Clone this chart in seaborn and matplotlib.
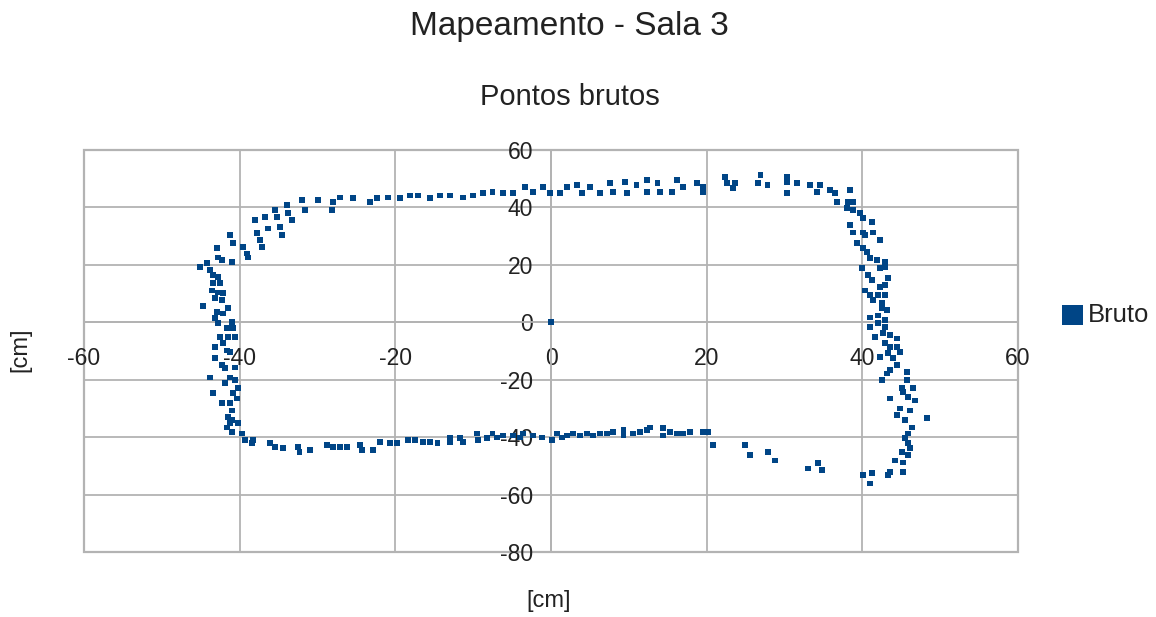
import matplotlib
matplotlib.use("Agg")
import matplotlib.pyplot as plt
from matplotlib.patches import Rectangle
import pandas as pd
import seaborn as sns

# Raw sensor readings (x, y) in cm, grouped by wall
left_wall = [
    (-41.2, 30.3), (-40.9, 27.5), (-39.6, 26.1), (-39.1, 24.0), (-38.9, 22.6),
    (-42.9, 25.8), (-42.8, 22.6), (-42.3, 21.6), (-41.0, 20.9), (-45.1, 19.2),
    (-44.2, 20.6), (-43.8, 18.1), (-43.4, 16.4), (-42.8, 15.7), (-43.4, 13.6),
    (-42.5, 13.6), (-43.6, 11.1), (-42.8, 10.4), (-42.1, 10.1), (-43.2, 8.4),
    (-42.3, 7.7), (-44.7, 5.6), (-41.5, 4.9), (-42.9, 3.5), (-42.1, 3.1),
    (-43.2, 1.4), (-42.8, -0.3), (-41.0, 0.0), (-40.9, -2.1), (-41.6, -2.1),
    (-42.5, -5.2), (-41.5, -5.2), (-40.6, -5.2), (-43.2, -8.7), (-42.1, -7.3),
    (-41.6, -9.8), (-41.2, -10.4), (-43.2, -12.5), (-42.3, -15.0), (-41.9, -16.0),
    (-40.6, -15.7), (-43.8, -19.2), (-41.2, -19.2), (-41.9, -21.2), (-40.6, -20.2),
    (-40.2, -23.0), (-43.4, -24.7), (-40.9, -24.7), (-40.3, -26.5), (-42.3, -28.2),
    (-41.2, -28.2), (-41.0, -30.7), (-41.5, -33.1), (-41.0, -34.1), (-41.2, -35.2),
    (-40.2, -35.2), (-41.6, -36.6), (-41.0, -38.3), (-39.7, -38.7), (-39.3, -41.1),
    (-38.3, -41.1), (-38.4, -42.1),
]

top_wall = [
    (-37.8, 31.0), (-37.4, 28.6), (-37.1, 26.1), (-38.0, 35.5), (-36.7, 36.6),
    (-36.4, 32.7), (-35.5, 39.0), (-35.2, 36.6), (-34.8, 33.1), (-34.6, 30.3),
    (-33.9, 40.8), (-33.8, 38.0), (-33.3, 35.5), (-32.0, 42.5), (-31.6, 39.0),
    (-29.9, 42.5), (-28.1, 39.0), (-28.0, 41.8), (-27.1, 43.5), (-25.4, 43.2),
    (-23.3, 41.8), (-22.4, 43.2), (-20.9, 43.5), (-19.4, 43.2), (-18.1, 44.2),
    (-17.1, 44.2), (-15.5, 43.2), (-14.3, 44.2), (-13.0, 44.2), (-11.3, 43.5),
    (-10.0, 44.2), (-8.7, 44.9), (-7.5, 45.3), (-6.2, 44.9), (-4.9, 44.9),
    (-3.3, 47.0), (-2.3, 45.3), (-1.0, 47.0), (-0.1, 44.9), (1.2, 44.9),
    (2.1, 47.0), (3.3, 47.7), (4.0, 44.9), (5.0, 47.0), (6.3, 44.9),
    (7.6, 48.4), (8.0, 45.3), (9.5, 48.8), (9.8, 44.9), (11.0, 47.7),
    (12.3, 49.5), (12.3, 45.3), (13.7, 48.4), (14.0, 45.3), (15.5, 45.3),
    (16.2, 49.5), (17.0, 47.0), (18.8, 48.4), (19.5, 47.0), (19.5, 45.3),
    (22.4, 50.5), (22.6, 48.4), (23.4, 46.7), (23.6, 48.4), (26.9, 51.2),
    (26.6, 48.4), (27.8, 47.7), (30.3, 50.5), (30.3, 48.8), (30.3, 44.9),
    (31.6, 48.4), (33.3, 47.7), (34.2, 45.3), (34.6, 47.7), (35.8, 46.0),
    (36.5, 44.9), (36.7, 41.8), (38.4, 46.0), (38.2, 41.8), (38.8, 41.8),
]

right_wall = [
    (38.0, 39.7), (38.8, 39.0), (39.7, 38.0), (40.1, 36.2), (41.2, 34.8),
    (38.4, 33.8), (38.8, 31.3), (40.1, 31.3), (41.4, 31.3), (42.3, 28.6),
    (39.3, 27.5), (40.3, 30.3), (40.1, 25.8), (40.6, 24.4), (41.0, 22.3),
    (41.9, 21.6), (42.9, 20.9), (40.0, 18.8), (42.3, 18.8), (42.9, 19.2),
    (40.7, 16.4), (41.2, 14.6), (43.3, 15.3), (42.3, 12.2), (42.9, 12.9),
    (40.3, 11.1), (41.0, 9.4), (42.0, 9.4), (42.9, 9.4), (41.4, 7.7),
    (42.5, 6.6), (42.5, 4.9), (43.2, 4.2), (41.0, 1.7), (42.0, 2.4),
    (42.9, 0.7), (41.0, -1.7), (42.0, -0.3), (42.9, -1.7), (41.6, -5.2),
    (42.7, -3.8), (43.6, -4.5), (44.5, -5.6), (42.9, -7.3), (43.6, -8.7),
    (44.5, -8.7), (44.8, -10.4), (42.3, -12.2), (43.3, -10.8), (43.9, -12.5),
    (44.5, -15.0), (43.6, -16.7), (43.2, -17.8), (42.5, -20.2), (45.7, -17.4),
    (45.7, -20.2), (45.1, -23.0), (45.2, -24.4), (46.5, -23.0), (43.6, -26.5),
    (45.9, -26.1), (46.8, -27.2), (44.8, -30.0), (44.5, -32.4), (46.1, -30.7),
    (45.5, -34.1), (48.3, -33.4), (46.4, -36.6), (45.9, -38.7), (45.5, -40.4),
    (45.9, -42.1), (46.1, -43.9), (45.1, -45.3), (45.9, -46.3), (44.2, -48.1),
    (45.2, -48.8), (43.6, -52.2), (43.3, -53.3), (45.2, -52.2), (40.1, -53.3),
    (41.2, -52.6), (41.0, -56.1),
]

bottom_wall = [
    (-36.1, -42.1), (-35.5, -43.5), (-34.4, -43.9), (-32.5, -43.5), (-32.3, -45.3),
    (-31.0, -44.6), (-28.8, -42.8), (-28.0, -43.5), (-27.1, -43.5), (-26.2, -43.5),
    (-24.5, -42.8), (-24.3, -44.6), (-22.9, -44.6), (-22.0, -41.8), (-20.7, -42.1),
    (-19.8, -42.1), (-18.4, -41.1), (-17.5, -41.1), (-16.4, -41.8), (-15.5, -41.8),
    (-14.6, -42.1), (-13.0, -40.1), (-13.0, -41.8), (-11.7, -40.4), (-11.3, -41.8),
    (-9.5, -38.7), (-9.4, -41.1), (-8.2, -40.4), (-7.5, -38.7), (-6.9, -40.1),
    (-6.2, -39.4), (-4.9, -39.4), (-4.0, -40.1), (-3.6, -38.7), (-2.3, -39.4),
    (-1.2, -40.1), (0.1, -41.1), (0.8, -38.7), (1.4, -40.1), (2.1, -39.4),
    (2.8, -38.7), (3.7, -39.4), (4.6, -38.7), (5.4, -39.4), (6.3, -38.7),
    (7.2, -38.7), (8.0, -38.3), (9.3, -37.6), (9.3, -39.4), (10.5, -38.7),
    (11.4, -38.3), (12.3, -37.6), (12.7, -36.6), (14.4, -36.9), (14.4, -39.4),
    (15.3, -38.3), (16.2, -38.7), (17.0, -38.7), (17.9, -38.3), (19.5, -38.3),
    (20.2, -38.3), (20.8, -42.8), (24.9, -42.8), (25.6, -46.3), (27.9, -45.3),
    (28.8, -48.1), (33.0, -50.9), (34.3, -49.1), (34.8, -51.5),
]

sensor_origin = [(0.0, 0.0)]

x_ticks = [-60, -40, -20, 0, 20, 40, 60]
y_ticks = [-80, -60, -40, -20, 0, 20, 40, 60]

points = pd.DataFrame(left_wall + top_wall + right_wall + bottom_wall + sensor_origin,
                      columns=["x", "y"])

sns.set_theme(style="white")
plt.rcParams["font.family"] = ["Liberation Sans", "DejaVu Sans"]
plt.rcParams["axes.unicode_minus"] = False

W, H = 1156, 617
fig = plt.figure(figsize=(W / 100, H / 100), dpi=100)
ax = fig.add_axes([84 / W, 65 / H, 934 / W, 402 / H])

point_color = "#004586"
grid_color = "#b3b3b3"
text_color = "#222222"

sns.scatterplot(data=points, x="x", y="y", marker="s", s=17, color=point_color,
                edgecolor="none", linewidth=0, label="Bruto", ax=ax, zorder=4)

ax.set_xlim(-60, 60)
ax.set_ylim(-80, 60)
ax.set_xticks(x_ticks)
ax.set_yticks(y_ticks)
ax.set_xlabel("")
ax.set_ylabel("")
ax.grid(True, color=grid_color, linewidth=1.3)
ax.set_axisbelow(True)

# axes cross at the origin
for side in ("top", "right"):
    ax.spines[side].set_visible(False)
for side in ("left", "bottom"):
    ax.spines[side].set_position("zero")
    ax.spines[side].set_color(grid_color)
    ax.spines[side].set_linewidth(1.3)
    ax.spines[side].set_zorder(1)

ax.tick_params(axis="both", length=0, labelsize=16.5, labelcolor=text_color)
ax.tick_params(axis="x", pad=18)
ax.tick_params(axis="y", pad=13)

# outer frame of the plot area
ax.add_patch(Rectangle((0, 0), 1, 1, transform=ax.transAxes, fill=False,
                       edgecolor=grid_color, linewidth=1.6, clip_on=False, zorder=0))

ax.legend(loc="center left", bbox_to_anchor=(1.035, 0.59), frameon=False,
          markerscale=3.6, handletextpad=0.15, handlelength=0.9, borderaxespad=0,
          fontsize=18.5, labelcolor=text_color)

fig.text(569 / W, 1 - 26 / H, "Mapeamento - Sala 3", ha="center", va="center",
         fontsize=24, color=text_color)
fig.text(570 / W, 1 - 97 / H, "Pontos brutos", ha="center", va="center",
         fontsize=21, color=text_color)
fig.text(549 / W, 1 - 601 / H, "[cm]", ha="center", va="center",
         fontsize=17, color=text_color)
fig.text(20 / W, 1 - 350 / H, "[cm]", ha="center", va="center", rotation=90,
         fontsize=17, color=text_color)

fig.savefig("out.png", dpi=100, facecolor="white")
